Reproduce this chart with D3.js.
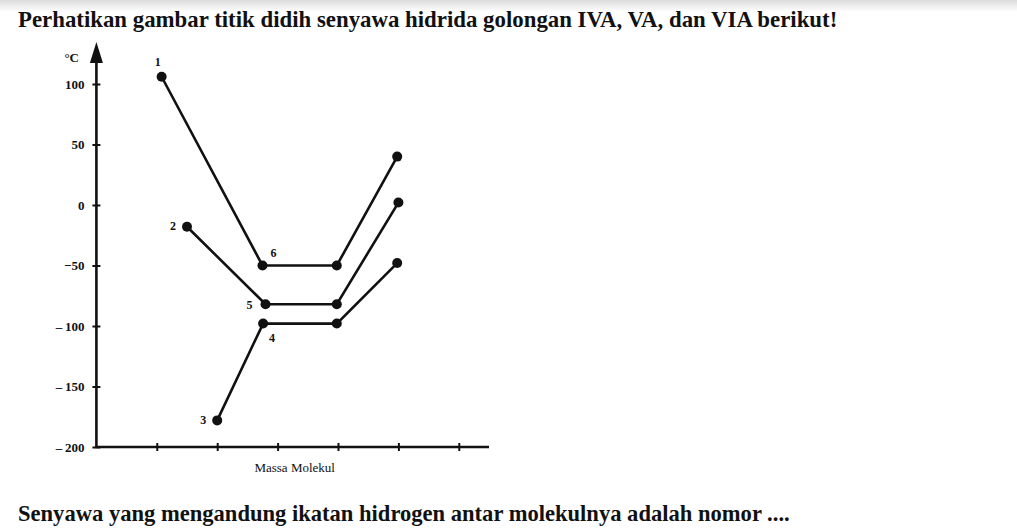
<!DOCTYPE html>
<html><head><meta charset="utf-8">
<script src="https://cdn.jsdelivr.net/npm/d3@7/dist/d3.min.js"></script>
<style>body{margin:0;background:#fff}svg{display:block}</style>
</head><body><svg id="c" width="1017" height="529"></svg>
<script>
const titleText = "Perhatikan gambar titik didih senyawa hidrida golongan IVA, VA, dan VIA berikut!";
const questionText = "Senyawa yang mengandung ikatan hidrogen antar molekulnya adalah nomor ....";
const yTicks = [100, 50, 0, -50, -100, -150, -200];
const xTicks = [1, 2, 3, 4, 5, 6];
const yUnit = "°C";
const xTitle = "Massa Molekul";
// series: molecular-mass position (axis units) and boiling point (°C)
const seriesA_mass = [1.08, 2.75, 3.98, 4.98];
const seriesA_bp   = [106, -50, -50, 40];
const seriesB_mass = [1.5, 2.8, 3.98, 5.0];
const seriesB_bp   = [-18, -82, -82, 2];
const seriesC_mass = [2.0, 2.76, 3.98, 4.98];
const seriesC_bp   = [-178, -98, -98, -48];
const pointLabels = [
  {n:"1", s:"A", i:0}, {n:"6", s:"A", i:1},
  {n:"2", s:"B", i:0}, {n:"5", s:"B", i:1},
  {n:"3", s:"C", i:0}, {n:"4", s:"C", i:1}
];

const svg = d3.select("#c");
const defs = svg.append("defs");
const g = defs.append("linearGradient").attr("id","topg").attr("x1",0).attr("y1",0).attr("x2",0).attr("y2",1);
g.append("stop").attr("offset","0").attr("stop-color","#dcdcdc");
g.append("stop").attr("offset","1").attr("stop-color","#fff");
svg.append("rect").attr("width",1017).attr("height",12).attr("fill","url(#topg)");

const x = d3.scaleLinear().domain([0, 6.5]).range([96.4, 489]);
const y = d3.scaleLinear().domain([-200, 100]).range([447, 84]);
const ink = "#111";
const serif = "'Liberation Serif','Times New Roman',serif";

function fitText(t, targetRight){
  const w = t.node().getComputedTextLength();
  const x0 = +t.attr("x");
  const fs = +t.attr("font-size");
  t.attr("font-size", fs * (targetRight - x0) / w);
}

const title = svg.append("text").attr("x",18).attr("y",27).attr("font-family",serif)
  .attr("font-size",20).attr("font-weight","bold").attr("fill",ink).text(titleText);
fitText(title, 838);

// y axis
const yAx = svg.append("g").attr("transform",`translate(${x(0)},0)`)
  .call(d3.axisLeft(y).tickValues(yTicks).tickSize(0).tickPadding(12)
    .tickFormat(d => d < 0 ? (d <= -100 ? "\u2013\u2009" : "\u2212") + Math.abs(d) : d));
yAx.select(".domain").remove();
yAx.selectAll("text").attr("font-family",serif).attr("font-size",13).attr("font-weight","bold").attr("fill",ink);
yAx.selectAll(".tick").append("line").attr("x1",-4).attr("x2",4).attr("stroke",ink).attr("stroke-width",2);
svg.append("line").attr("x1",x(0)).attr("x2",x(0)).attr("y1",y(-200)+1).attr("y2",58)
  .attr("stroke",ink).attr("stroke-width",2.6);
svg.append("path").attr("d",`M${x(0)},42 L${x(0)-6.5},63 L${x(0)+6.5},63 Z`).attr("fill",ink);
svg.append("text").attr("x",x(0)-32).attr("y",62).attr("font-family",serif).attr("font-size",13)
  .attr("font-weight","bold").attr("fill",ink).text(yUnit);

// x axis
const xAx = svg.append("g").attr("transform",`translate(0,${y(-200)})`)
  .call(d3.axisBottom(x).tickValues(xTicks).tickSize(0).tickFormat(""));
xAx.select(".domain").remove();
xAx.selectAll(".tick").append("line").attr("y1",-4).attr("y2",4).attr("stroke",ink).attr("stroke-width",2);
svg.append("line").attr("x1",x(0)-1).attr("x2",x(6.5)).attr("y1",y(-200)).attr("y2",y(-200))
  .attr("stroke",ink).attr("stroke-width",2.6);
svg.append("text").attr("x",(x(2.5)+x(4))/2+2).attr("y",472).attr("text-anchor","middle")
  .attr("font-family",serif).attr("font-size",13).attr("fill",ink).text(xTitle);

const series = {
  A: seriesA_mass.map((m,i)=>({m, v:seriesA_bp[i]})),
  B: seriesB_mass.map((m,i)=>({m, v:seriesB_bp[i]})),
  C: seriesC_mass.map((m,i)=>({m, v:seriesC_bp[i]}))
};
const line = d3.line().x(d=>x(d.m)).y(d=>y(d.v));
Object.values(series).forEach(s=>{
  svg.append("path").attr("d",line(s)).attr("fill","none").attr("stroke",ink).attr("stroke-width",2.6);
  svg.selectAll(null).data(s).enter().append("circle")
    .attr("cx",d=>x(d.m)).attr("cy",d=>y(d.v)).attr("r",5).attr("fill",ink);
});

const labelOffset = {"1":[-7,-11],"6":[8,-9],"2":[-17,3],"5":[-19,5],"3":[-17,4],"4":[6,18]};
pointLabels.forEach(p=>{
  const d = series[p.s][p.i];
  const o = labelOffset[p.n];
  svg.append("text").attr("x",x(d.m)+o[0]).attr("y",y(d.v)+o[1])
    .attr("font-family",serif).attr("font-size",12).attr("font-weight","bold").attr("fill",ink).text(p.n);
});

const q = svg.append("text").attr("x",18).attr("y",521).attr("font-family",serif)
  .attr("font-size",20).attr("font-weight","bold").attr("fill",ink).text(questionText);
fitText(q, 790);
</script></body></html>
